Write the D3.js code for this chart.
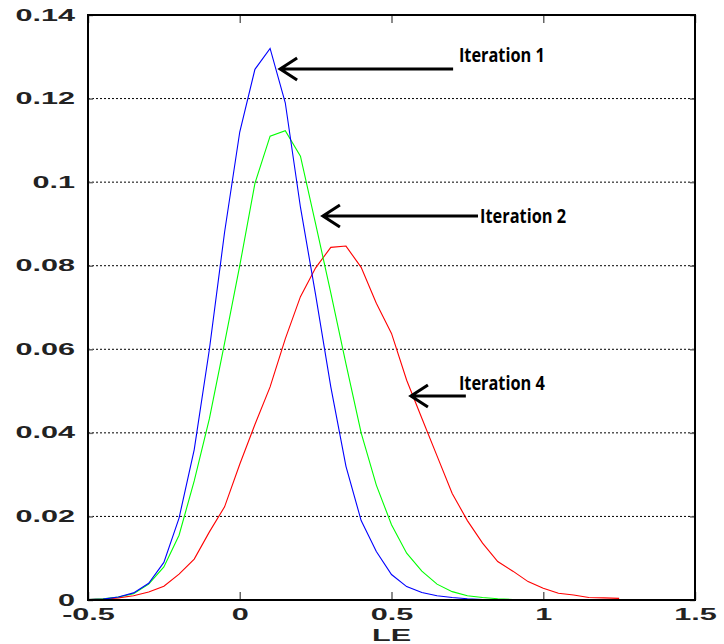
<!DOCTYPE html>
<html>
<head>
<meta charset="utf-8">
<script src="https://cdn.jsdelivr.net/npm/d3@7"></script>
<style>
  body { margin: 0; background: #fff; }
  svg { display: block; }
</style>
</head>
<body>
<svg id="chart" width="724" height="644"></svg>
<script>
// x positions of the histogram bins (LE)
var xBlue  = [-0.5,-0.45,-0.4,-0.35,-0.3,-0.25,-0.2,-0.15,-0.1,-0.05,0,0.05,0.1,0.15,0.2,0.25,0.3,0.35,0.4,0.45,0.5,0.55,0.6,0.65,0.7,0.75,0.8];
var iter1  = [0.0001,0.0002,0.0007,0.0017,0.004,0.009,0.0196,0.036,0.06,0.088,0.112,0.127,0.132,0.119,0.094,0.073,0.051,0.032,0.019,0.0116,0.0061,0.0032,0.0018,0.001,0.0006,0.0003,0.0001];

var xGreen = [-0.5,-0.45,-0.4,-0.35,-0.3,-0.25,-0.2,-0.15,-0.1,-0.05,0,0.05,0.1,0.15,0.2,0.25,0.3,0.35,0.4,0.45,0.5,0.55,0.6,0.65,0.7,0.75,0.8,0.85,0.9];
var iter2  = [0.0001,0.0003,0.0007,0.0015,0.0038,0.0079,0.0155,0.0285,0.0434,0.0615,0.080,0.0997,0.111,0.1123,0.1062,0.090,0.0735,0.0565,0.040,0.0275,0.018,0.0112,0.0069,0.0038,0.002,0.001,0.0006,0.0003,0.0001];

var xRed   = [-0.5,-0.45,-0.4,-0.35,-0.3,-0.25,-0.2,-0.15,-0.1,-0.05,0,0.05,0.1,0.15,0.2,0.25,0.3,0.35,0.4,0.45,0.5,0.55,0.6,0.65,0.7,0.75,0.8,0.85,0.9,0.95,1,1.05,1.1,1.15,1.2,1.25];
var iter4  = [0.0001,0.0002,0.0005,0.001,0.0019,0.0033,0.0062,0.0098,0.0163,0.0223,0.0325,0.042,0.051,0.0625,0.0726,0.0795,0.0844,0.0847,0.0796,0.071,0.0638,0.0526,0.0435,0.0345,0.0255,0.019,0.0136,0.0092,0.0069,0.0044,0.0028,0.0016,0.0012,0.0006,0.0005,0.0004];

var xTicks  = [-0.5, 0, 0.5, 1, 1.5];
var xLabels = ["-0.5", "0", "0.5", "1", "1.5"];
var yTicks  = [0, 0.02, 0.04, 0.06, 0.08, 0.1, 0.12, 0.14];
var yLabels = ["0", "0.02", "0.04", "0.06", "0.08", "0.1", "0.12", "0.14"];

// arrows: tip, tail and label anchor in data units
var notes = [
  {label: "Iteration 1", tipX: 0.133, tipY: 0.1271, tailX: 0.703, textX: 0.722, textY: 0.1287},
  {label: "Iteration 2", tipX: 0.274, tipY: 0.0919, tailX: 0.785, textX: 0.792, textY: 0.0902},
  {label: "Iteration 4", tipX: 0.564, tipY: 0.0488, tailX: 0.745, textX: 0.722, textY: 0.0503}
];

var margin = {top: 15, left: 88},
    width = 607,
    height = 585;
var stretch = 1.8; // tick labels in the picture are horizontally stretched

var svg = d3.select("#chart")
  .append("g")
    .attr("transform", "translate(" + margin.left + "," + margin.top + ")");

var x = d3.scaleLinear().domain([-0.5, 1.5]).range([0, width]);
var y = d3.scaleLinear().domain([0, 0.14]).range([height, 0]);

// dotted grid
svg.selectAll("line.grid")
  .data(yTicks.slice(1, -1))
  .enter()
  .append("line")
    .attr("class", "grid")
    .attr("x1", 0)
    .attr("x2", width)
    .attr("y1", d => y(d))
    .attr("y2", d => y(d))
    .attr("stroke", "#000")
    .attr("stroke-width", 1)
    .attr("stroke-dasharray", "2,2");

function styleTicks(g) {
  g.select(".domain").remove();
  g.selectAll(".tick line").attr("stroke", "#666").attr("stroke-width", 1.5);
}

var labelFont = "'Liberation Sans', Arial, sans-serif";

var yAxis = svg.append("g")
  .call(d3.axisLeft(y).tickValues(yTicks).tickFormat((d, i) => yLabels[i]).tickSize(-5).tickPadding(13))
  .call(styleTicks);
yAxis.selectAll(".tick text")
  .attr("x", -13 / stretch)
  .attr("dy", "0.3em")
  .attr("transform", "scale(" + stretch + ",1)")
  .attr("font-family", labelFont)
  .attr("font-weight", "bold")
  .attr("font-size", 17)
  .attr("fill", "#222");

var xAxis = svg.append("g")
  .attr("transform", "translate(0," + height + ")")
  .call(d3.axisBottom(x).tickValues(xTicks).tickFormat((d, i) => xLabels[i]).tickSize(-8).tickPadding(8))
  .call(styleTicks);
xAxis.selectAll(".tick text")
  .attr("transform", "scale(" + stretch + ",1)")
  .attr("font-family", labelFont)
  .attr("font-weight", "bold")
  .attr("font-size", 17)
  .attr("fill", "#222");

svg.append("g")
  .call(d3.axisTop(x).tickValues(xTicks).tickFormat("").tickSize(-8))
  .call(styleTicks);
svg.append("g")
  .attr("transform", "translate(" + width + ",0)")
  .call(d3.axisRight(y).tickValues(yTicks).tickFormat("").tickSize(-5))
  .call(styleTicks);

// curves
var line = d3.line()
  .x(d => x(d[0]))
  .y(d => y(d[1]));

var series = [
  {xs: xRed,   ys: iter4, color: "#ff0000"},
  {xs: xGreen, ys: iter2, color: "#00ff00"},
  {xs: xBlue,  ys: iter1, color: "#0000ff"}
];
series.forEach(function(s) {
  svg.append("path")
    .datum(s.xs.map((v, i) => [v, s.ys[i]]))
    .attr("fill", "none")
    .attr("stroke", s.color)
    .attr("stroke-width", 1.1)
    .attr("d", line);
});

// frame
svg.append("rect")
  .attr("x", 0)
  .attr("y", 0)
  .attr("width", width)
  .attr("height", height)
  .attr("fill", "none")
  .attr("stroke", "#000")
  .attr("stroke-width", 2);

// x label
svg.append("text")
  .attr("transform", "translate(" + x(0.5) + "," + (height + 41) + ") scale(" + stretch + ",1)")
  .attr("text-anchor", "middle")
  .attr("font-family", labelFont)
  .attr("font-weight", "bold")
  .attr("font-size", 17)
  .attr("fill", "#222")
  .text("LE");

// annotations
var ann = svg.selectAll("g.note")
  .data(notes)
  .enter()
  .append("g")
    .attr("class", "note");

ann.append("path")
  .attr("fill", "none")
  .attr("stroke", "#000")
  .attr("stroke-width", 3)
  .attr("d", function(d) {
    var tx = x(d.tipX), ty = y(d.tipY);
    return "M" + x(d.tailX) + "," + ty + "L" + tx + "," + ty +
      "M" + (tx + 17) + "," + (ty - 11) + "L" + tx + "," + ty + "L" + (tx + 17) + "," + (ty + 11);
  });

ann.append("text")
  .attr("x", d => x(d.textX))
  .attr("y", d => y(d.textY))
  .attr("font-family", "'Open Sans', sans-serif")
  .attr("font-weight", "bold")
  .attr("font-size", 19)
  .attr("textLength", 86)
  .attr("lengthAdjust", "spacingAndGlyphs")
  .text(d => d.label);
</script>
</body>
</html>
